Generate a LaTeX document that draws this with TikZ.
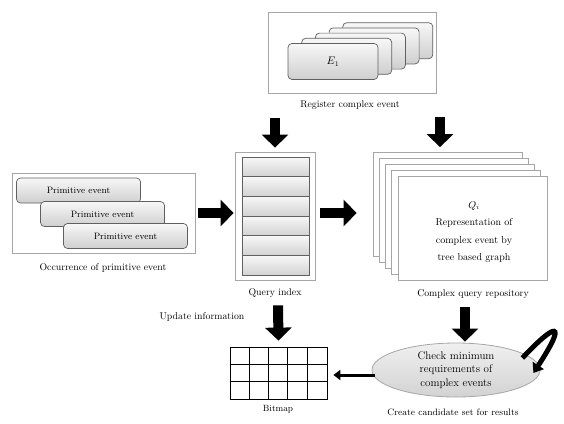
\documentclass[tikz,border=0pt]{standalone}
\usetikzlibrary{arrows.meta,shapes.geometric,calc}
\begin{document}
\begin{tikzpicture}[x=1pt,y=-1pt,
  outer/.style={draw=gray!70, line width=0.8pt, inner sep=0pt},
  rbox/.style={draw=gray!75!black, line width=0.7pt, rounded corners=4pt, top color=gray!6, bottom color=gray!38, inner sep=0pt, font=\fontsize{9.2}{10}\selectfont},
  qrow/.style={draw=gray!75!black, line width=0.7pt, top color=gray!6, bottom color=gray!35, inner sep=0pt, minimum width=67pt, minimum height=19.67pt},
  page/.style={draw=gray!70, line width=0.8pt, fill=white, minimum width=149pt, minimum height=104pt, inner sep=0pt},
  lbl/.style={font=\fontsize{9.8}{11}\selectfont, inner sep=0pt},
  blk/.style={line width=10pt, -{Triangle[length=13pt,width=26pt]}},
]
\useasboundingbox (0,0) rectangle (564,423);

% top box: register complex event
\node[outer, minimum width=168pt, minimum height=81pt] (topbox) at (352,52.5) {};
\foreach \i in {4,3,2,1} {
  \node[rbox, minimum width=90pt, minimum height=36pt] (e\i) at ({333+13.7*\i},{61.5-5.2*\i}) {};
}
\node[rbox, minimum width=90pt, minimum height=36pt, font=\fontsize{10.5}{11}\selectfont] (e0) at (333,61.5) {$E_1$};
\node[lbl] (reglbl) at (350,105) {Register complex event};

% left box: primitive events
\node[outer, minimum width=183pt, minimum height=80pt] (occbox) at (103.5,213) {};
\node[rbox, minimum width=124pt, minimum height=25pt] (p1) at (78.5,190.5) {Primitive event};
\node[rbox, minimum width=124pt, minimum height=25pt] (p2) at (102.5,214) {Primitive event};
\node[rbox, minimum width=124pt, minimum height=25pt] (p3) at (125.5,236) {Primitive event};
\node[lbl] (occlbl) at (103,268) {Occurrence of primitive event};

% query index
\node[outer, minimum width=80pt, minimum height=128pt] (qi) at (275,216) {};
\foreach \i in {0,...,5} {
  \node[qrow] (row\i) at (275.5,{157+19.67*(\i+0.5)}) {};
}
\node[lbl] (qilbl) at (275,293) {Query index};

% complex query repository
\foreach \i in {4,3,2,1,0} {
  \node[page] (pg\i) at ({472.5-6.25*\i},{228.5-6*\i}) {};
}
\node[align=center, inner sep=0pt, font=\fontsize{10}{17.5}\selectfont] (qtext) at (474,232) {$Q_i$\\Representation of\\complex event by\\tree based graph};
\node[lbl] (repolbl) at (473,294) {Complex query repository};

% bitmap
\node[draw, line width=0.8pt, minimum width=97pt, minimum height=52pt, inner sep=0pt] (bitmap) at (278.5,373) {};
\foreach \k in {1,2,3,4} {
  \draw[line width=0.8pt] ($(bitmap.north west)+({19.4*\k},0)$) -- ($(bitmap.south west)+({19.4*\k},0)$);
}
\foreach \k in {1,2} {
  \draw[line width=0.8pt] ($(bitmap.north west)+(0,{17.33*\k})$) -- ($(bitmap.north east)+(0,{17.33*\k})$);
}
\node[lbl, font=\fontsize{9}{10}\selectfont] (bmlbl) at (278,409) {Bitmap};
\node[lbl] (updlbl) at (202,317) {Update information};

% check ellipse
\node[ellipse, draw=gray!70, line width=0.8pt, top color=gray!12, bottom color=gray!35, minimum width=168pt, minimum height=54pt, inner sep=0pt, align=center, font=\fontsize{11}{13.5}\selectfont] (check) at (456,370) {Check minimum\\requirements of\\complex events};
\node[lbl, font=\fontsize{9.3}{10}\selectfont] (candlbl) at (453,412) {Create candidate set for results};

% block arrows
\draw[blk] ($(qi.north)+(0,-34)$) -- ($(qi.north)+(0,-4)$);
\draw[blk] ($(pg4.north)+(-7.5,-35)$) -- ($(pg4.north)+(-7.5,-5)$);
\draw[blk] ($(occbox.east)+(3,0)$) -- ($(qi.west |- occbox.east)+(-1,0)$);
\draw[blk] ($(qi.east)+(5,-3)$) -- ($(pg4.west |- qi.east)+(-16,-3)$);
\draw[blk] ($(qi.south)+(3,25)$) -- ($(bitmap.north)+(0,-6)$);
\draw[blk] ($(pg0.south)+(-7.5,26)$) -- ($(check.north)+(9,-1)$);

% ellipse to bitmap
\draw[line width=3pt, -{Triangle[length=7pt,width=10pt]}] ($(check.west)+(3,5)$) -- ($(bitmap.east |- check.west)+(6,5)$);

% self loop
\draw[line width=5pt, -{Triangle[length=9pt,width=13pt]}] ($(check.east)+(-18,-12)$) .. controls (556,322) and (568,320) .. ($(check.east)+(-7,3)$);
\end{tikzpicture}
\end{document}
